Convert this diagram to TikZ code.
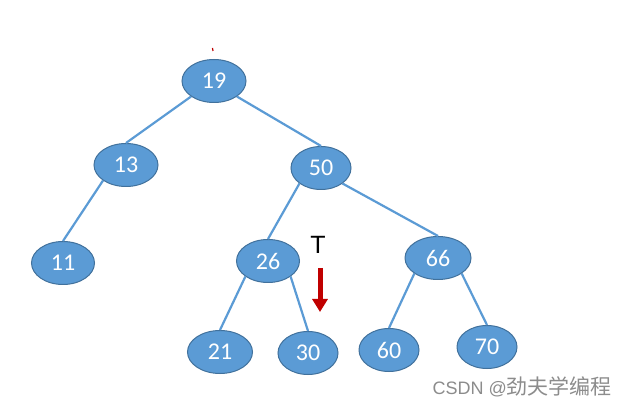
\documentclass[tikz,border=0pt]{standalone}
\usepackage{fontspec}
\setmainfont{Carlito}
\newfontfamily\libsans{Liberation Sans}
\newfontfamily\cjk{Noto Sans CJK SC}
\usetikzlibrary{shapes.geometric,arrows.meta}
\definecolor{nodefill}{HTML}{5B9BD5}
\definecolor{nodeline}{HTML}{41719C}
\definecolor{edgecol}{HTML}{5B9BD5}
\definecolor{arrred}{HTML}{C00000}
\definecolor{wmgray}{HTML}{8C8C8C}
\tikzset{
  treenode/.style={ellipse, draw=nodeline, line width=1pt, fill=nodefill,
    minimum width=64pt, minimum height=43pt, inner sep=0pt, text=white,
    font=\fontsize{24}{24}\selectfont},
  narrow/.style={minimum width=60pt},
  edge/.style={draw=edgecol, line width=2.2pt},
}
\begin{document}
\begin{tikzpicture}[x=1pt,y=-1pt]
\useasboundingbox (0,0) rectangle (618,411);
\fill[white] (0,0) rectangle (618,411);
% nodes
\node[treenode] (n19) at (214,81) {19};
\node[treenode] (n13) at (126,165) {13};
\node[treenode,narrow] (n50) at (321,168) {50};
\node[treenode,minimum width=63pt] (n11) at (63,263) {11};
\node[treenode,minimum width=63pt] (n26) at (268,261) {26};
\node[treenode,minimum width=66pt] (n66) at (438,258) {66};
\node[treenode,minimum width=65pt] (n21) at (220,352) {21};
\node[treenode,narrow] (n30) at (308,353) {30};
\node[treenode,narrow] (n60) at (389,350) {60};
\node[treenode,narrow] (n70) at (487,347) {70};
% edges
\draw[edge] (n19.south west) -- (n13.north);
\draw[edge] (n19.south east) -- (n50.north);
\draw[edge] (n13.south west) -- (n11.north);
\draw[edge] (n50.south west) -- (n26.north);
\draw[edge] (n50.south east) -- (n66.north);
\draw[edge] (n26.south west) -- (n21.north);
\draw[edge] (n26.south east) -- (n30.north);
\draw[edge] (n66.south west) -- (n60.north);
\draw[edge] (n66.south east) -- (n70.north);
% T label and arrow
\node[font=\libsans\fontsize{25}{25}\selectfont] (tlab) at (318,245) {T};
\coordinate (ta) at (320,268);
\coordinate (tb) at (320,312);
\draw[arrred, line width=5pt, -{Triangle[length=13pt,width=15pt]}] (ta) -- (tb);
% small red mark above root
\coordinate (rm1) at (212.5,48);
\coordinate (rm2) at (213,51);
\draw[arrred, line width=1.2pt] (rm1) -- (rm2);
% watermark
\node[anchor=east, text=wmgray, inner sep=0pt] (csdn) at (612,387)
  {{\libsans\fontsize{18}{18}\selectfont CSDN @}{\cjk\fontsize{21}{21}\selectfont 劲夫学编程}};
\end{tikzpicture}
\end{document}
